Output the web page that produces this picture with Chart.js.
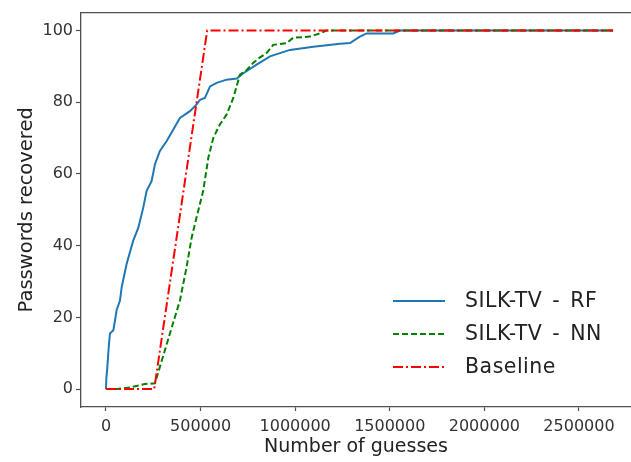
<!DOCTYPE html>
<html>
<head>
<meta charset="utf-8">
<script src="https://cdn.jsdelivr.net/npm/chart.js@4/dist/chart.umd.min.js"></script>
<style>
  html, body { margin: 0; padding: 0; background: #fff; overflow: hidden; }
  #wrap { position: relative; width: 631px; height: 462px; }
</style>
</head>
<body>
<div id="wrap"><canvas id="grafico" width="631" height="462"></canvas></div>
<script>
// valores
const rfGuesses = [0, 2000, 7000, 15000, 21000, 39000, 48000, 56000, 74000, 83000, 109000, 144000, 171000, 197000, 215000, 241000, 259000, 285000, 321000, 356000, 391000, 444000, 479000, 497000, 523000, 550000, 585000, 638000, 691000, 726000, 796000, 867000, 972000, 1096000, 1237000, 1290000, 1342000, 1378000, 1518000, 1554000, 2680000];
const rfRecovered = [0, 3, 6, 12, 15.5, 16.4, 19.2, 22, 24.7, 28.4, 34.9, 41.4, 45, 50.6, 55.3, 58, 62.7, 66.4, 69.2, 72.4, 75.6, 77.5, 79.4, 80.7, 81.2, 84.4, 85.4, 86.3, 86.6, 88.1, 90.5, 92.8, 94.6, 95.5, 96.3, 96.5, 98.3, 99.2, 99.2, 100, 100];

const nnGuesses = [0, 60000, 130000, 206000, 259000, 285000, 338000, 391000, 426000, 453000, 479000, 514000, 541000, 567000, 602000, 638000, 673000, 708000, 744000, 779000, 814000, 849000, 884000, 955000, 990000, 1078000, 1131000, 1166000, 2680000];
const nnRecovered = [0, 0, 0.5, 1.4, 1.6, 6.2, 15.5, 24.7, 34, 42.3, 47.9, 55.3, 64.5, 70, 73.8, 76.6, 81.2, 87.7, 89, 91, 92.5, 93.7, 96, 96.5, 98, 98.3, 99.2, 100, 100];

const baseGuesses = [0, 255000, 535000, 2680000];
const baseRecovered = [0, 0, 100, 100];

const xTicks = [0, 500000, 1000000, 1500000, 2000000, 2500000];
const yTicks = [0, 20, 40, 60, 80, 100];

const pontos = (xs, ys) => xs.map((x, i) => ({ x: x, y: ys[i] }));

const corEixo = '#505050';
const fonte = 'DejaVu Sans';

// moldura de cima e legenda no canto inferior direito
const molduraLegenda = {
    id: 'molduraLegenda',
    afterDatasetsDraw(chart) {
        const { ctx, chartArea } = chart;
        ctx.save();
        ctx.strokeStyle = corEixo;
        ctx.lineWidth = 1.3;
        ctx.beginPath();
        ctx.moveTo(chartArea.left, chartArea.top);
        ctx.lineTo(chartArea.right + 2, chartArea.top);
        ctx.stroke();

        const x0 = chartArea.left + 312;
        const x1 = chartArea.left + 364;
        const xt = chartArea.left + 384;
        const ys = [chartArea.bottom - 106, chartArea.bottom - 73, chartArea.bottom - 40];
        ctx.font = '20.5px "' + fonte + '"';
        ctx.wordSpacing = '3px';
        ctx.letterSpacing = '0.5px';
        ctx.textBaseline = 'middle';
        ctx.textAlign = 'left';
        chart.data.datasets.forEach((ds, i) => {
            ctx.strokeStyle = ds.borderColor;
            ctx.lineWidth = ds.borderWidth;
            ctx.setLineDash(ds.borderDash || []);
            ctx.beginPath();
            ctx.moveTo(x0, ys[i]);
            ctx.lineTo(x1, ys[i]);
            ctx.stroke();
            ctx.setLineDash([]);
            ctx.fillStyle = '#222';
            ctx.fillText(ds.label, xt, ys[i] + 1);
        });
        ctx.restore();
    }
};

const ctx = document.getElementById('grafico').getContext('2d');
new Chart(ctx, {
    type: 'line',
    data: {
        datasets: [{
            label: 'SILK-TV - RF',
            data: pontos(rfGuesses, rfRecovered),
            borderColor: '#1f77b4',
            borderWidth: 2,
            pointRadius: 0,
            tension: 0,
            order: 2
        }, {
            label: 'SILK-TV - NN',
            data: pontos(nnGuesses, nnRecovered),
            borderColor: '#008000',
            borderWidth: 2,
            borderDash: [6, 3],
            pointRadius: 0,
            tension: 0,
            order: 1
        }, {
            label: 'Baseline',
            data: pontos(baseGuesses, baseRecovered),
            borderColor: '#ff0000',
            borderWidth: 2,
            borderDash: [10, 3, 2, 3],
            pointRadius: 0,
            tension: 0,
            order: 0
        }]
    },
    options: {
        responsive: false,
        animation: false,
        layout: { padding: { top: 11, right: 0, left: 0, bottom: 0 } },
        plugins: {
            legend: { display: false },
            tooltip: { enabled: false }
        },
        scales: {
            x: {
                type: 'linear',
                min: -132000,
                max: 2775000,
                afterBuildTicks: s => { s.ticks = xTicks.map(v => ({ value: v })); },
                afterFit: s => { s.height = 55; },
                grid: { drawOnChartArea: false, drawTicks: true, tickLength: 4, color: corEixo, tickWidth: 1.2 },
                border: { color: corEixo, width: 1.3 },
                ticks: {
                    color: '#333',
                    font: { family: fonte, size: 16 },
                    padding: 6,
                    maxRotation: 0,
                    autoSkip: false,
                    callback: v => String(v)
                },
                title: {
                    display: true,
                    text: 'Number of guesses',
                    color: '#222',
                    font: { family: fonte, size: 19 },
                    padding: { top: 0, bottom: 4 }
                }
            },
            y: {
                type: 'linear',
                min: -5,
                max: 105,
                afterBuildTicks: s => { s.ticks = yTicks.map(v => ({ value: v })); },
                afterFit: s => { s.width = 81; },
                grid: { drawOnChartArea: false, drawTicks: true, tickLength: 5, color: corEixo, tickWidth: 1.2 },
                border: { color: corEixo, width: 1.3 },
                ticks: {
                    color: '#333',
                    font: { family: fonte, size: 16 },
                    padding: 3,
                    callback: v => String(v)
                },
                title: {
                    display: true,
                    text: 'Passwords recovered',
                    color: '#222',
                    font: { family: fonte, size: 19.5 },
                    padding: { top: 15, bottom: 0 }
                }
            }
        }
    },
    plugins: [molduraLegenda]
});
</script>
</body>
</html>
